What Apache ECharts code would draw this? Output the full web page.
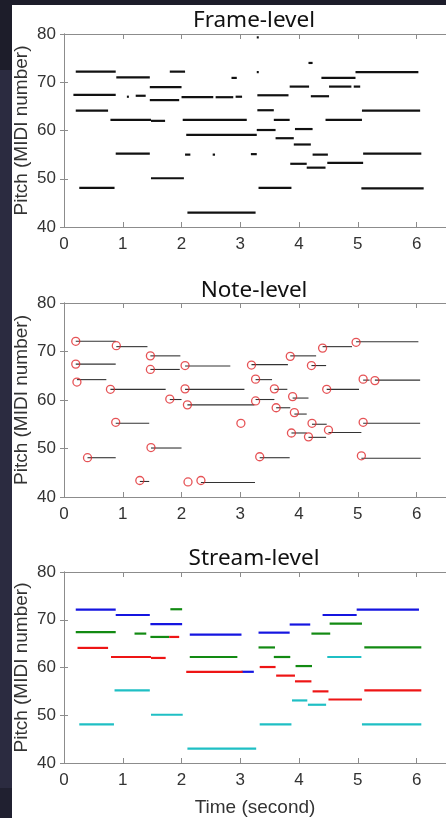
<!DOCTYPE html>
<html>
<head>
<meta charset="utf-8">
<script src="https://cdn.jsdelivr.net/npm/echarts@6/dist/echarts.min.js"></script>
<style>
  html, body { margin: 0; padding: 0; }
  body { width: 446px; height: 818px; position: relative; overflow: hidden; background: #2b2b40; }
  .dark { position: absolute; background: #1d1d2a; }
  .sheet { position: absolute; left: 12px; top: 5px; width: 434px; height: 813px; background: #fff; }
  #chart { position: absolute; left: 0; top: 0; width: 446px; height: 818px; }
</style>
</head>
<body>
<div class="dark" style="left:0;top:0;width:446px;height:5px"></div>
<div class="dark" style="left:0;top:0;width:12px;height:70px"></div>
<div class="dark" style="left:0;top:788px;width:12px;height:30px;background:#202030"></div>
<div class="sheet"></div>
<div id="chart"></div>
<script>
// segments are [start (s), end (s), pitch (MIDI)]
const frameSegs = [
  [0.20, 0.88, 72.2], [0.89, 1.46, 71.0], [1.80, 2.06, 72.2], [1.46, 2.00, 69.0],
  [0.16, 0.88, 67.4], [1.07, 1.10, 67.0], [1.22, 1.39, 67.2], [1.46, 1.96, 66.3],
  [0.20, 0.75, 64.1], [0.79, 1.48, 62.2], [1.48, 1.72, 62.0], [0.88, 1.46, 55.2],
  [1.48, 2.04, 50.1], [0.26, 0.86, 48.1], [2.10, 3.26, 43.0], [2.00, 2.54, 66.9],
  [2.58, 2.88, 66.9], [2.92, 3.03, 67.0], [2.85, 2.94, 70.9], [3.28, 3.31, 72.1],
  [3.28, 3.30, 79.3], [2.02, 3.11, 62.2], [2.08, 3.28, 59.1], [3.28, 3.60, 60.1],
  [2.06, 2.15, 55.0], [2.53, 2.57, 55.0], [3.18, 3.28, 55.1], [3.29, 3.82, 67.3],
  [3.29, 3.57, 64.2], [3.57, 3.84, 62.2], [3.60, 3.91, 58.4], [3.31, 3.87, 48.1],
  [3.84, 4.17, 69.1], [4.16, 4.23, 74.0], [3.93, 4.23, 60.3], [3.91, 4.20, 57.1],
  [3.85, 4.13, 53.1], [4.13, 4.45, 52.3], [4.23, 4.49, 55.0], [4.20, 4.51, 67.1],
  [4.38, 4.96, 70.9], [4.51, 4.89, 69.1], [4.93, 5.04, 69.1], [4.45, 5.07, 62.2],
  [4.48, 5.09, 53.3], [4.96, 6.03, 72.1], [5.07, 6.06, 64.1], [5.09, 6.08, 55.2],
  [5.06, 6.12, 48.0]
];

// note onsets [time, pitch]
const noteOnsets = [
  [0.20, 72.1], [0.89, 71.2], [0.20, 67.4], [0.22, 63.7], [0.79, 62.2], [0.88, 55.4],
  [0.40, 48.1], [1.47, 69.1], [1.47, 66.3], [1.80, 60.2], [1.48, 50.2], [1.29, 43.4],
  [2.06, 67.1], [2.06, 62.3], [2.10, 59.0], [2.11, 43.1], [2.33, 43.4], [3.01, 55.2],
  [3.19, 67.2], [3.26, 64.3], [3.26, 59.8], [3.33, 48.3], [3.58, 62.3], [3.61, 58.4],
  [3.85, 69.0], [3.89, 60.7], [3.92, 57.4], [3.87, 53.2], [4.21, 67.1], [4.22, 55.2],
  [4.16, 52.4], [4.40, 70.7], [4.47, 62.2], [4.50, 53.8], [4.97, 71.9], [5.09, 64.3],
  [5.29, 64.0], [5.09, 55.4], [5.06, 48.5]
];

const noteContours = [
  [0.20, 0.88, 72.1], [0.89, 1.42, 71.0], [0.20, 0.88, 67.4], [0.22, 0.72, 64.2],
  [0.79, 1.73, 62.2], [0.88, 1.45, 55.2], [0.40, 0.88, 48.1], [1.47, 1.98, 69.1],
  [1.47, 1.97, 66.3], [1.80, 2.00, 60.1], [1.48, 2.00, 50.1], [1.29, 1.45, 43.2],
  [2.06, 2.83, 67.0], [2.06, 3.07, 62.2], [2.10, 3.24, 59.0], [2.33, 3.25, 43.0],
  [3.19, 3.81, 67.3], [3.26, 3.54, 64.2], [3.26, 3.58, 60.1], [3.33, 3.84, 48.1],
  [3.58, 3.80, 62.2], [3.61, 3.85, 58.4], [3.85, 4.29, 69.1], [3.89, 4.16, 60.4],
  [3.92, 4.13, 57.1], [3.87, 4.13, 53.2], [4.21, 4.46, 67.1], [4.22, 4.47, 55.0],
  [4.16, 4.46, 52.3], [4.40, 4.90, 71.0], [4.47, 5.02, 62.2], [4.50, 5.06, 53.3],
  [4.97, 6.03, 72.0], [5.09, 5.20, 64.1], [5.29, 6.06, 64.1], [5.09, 6.06, 55.2],
  [5.06, 6.07, 48.0]
];

// stream-level, one array per stream
const streamBlue = [
  [0.20, 0.88, 72.1], [0.88, 1.46, 71.0], [1.47, 2.01, 69.1], [2.14, 3.02, 66.9],
  [3.02, 3.23, 59.1], [3.31, 3.84, 67.3], [3.84, 4.19, 69.0], [4.40, 4.98, 71.0],
  [4.98, 6.04, 72.1]
];
const streamGreen = [
  [0.20, 0.88, 67.4], [1.20, 1.40, 67.1], [1.47, 1.79, 66.4], [1.81, 2.01, 72.2],
  [2.14, 2.95, 62.2], [3.31, 3.59, 64.2], [3.57, 3.85, 62.2], [3.94, 4.22, 60.3],
  [4.21, 4.53, 67.1], [4.52, 5.07, 69.2], [5.11, 6.08, 64.2]
];
const streamRed = [
  [0.23, 0.75, 64.1], [0.80, 1.48, 62.2], [1.48, 1.73, 62.0], [1.79, 1.96, 66.4],
  [2.08, 3.04, 59.1], [3.33, 3.60, 60.1], [3.61, 3.93, 58.3], [3.93, 4.21, 57.1],
  [4.23, 4.50, 55.0], [4.50, 5.07, 53.3], [5.11, 6.08, 55.2]
];
const streamCyan = [
  [0.26, 0.85, 48.1], [0.86, 1.46, 55.2], [1.48, 2.02, 50.1], [2.10, 3.27, 43.0],
  [3.33, 3.87, 48.1], [3.88, 4.14, 53.1], [4.15, 4.46, 52.2], [4.48, 5.06, 62.2],
  [5.07, 6.08, 48.1]
];

const titles = ['Frame-level', 'Note-level', 'Stream-level'];
const xTicks = [0, 1, 2, 3, 4, 5, 6];
const yTicks = [40, 50, 60, 70, 80];

const grids = [
  { left: 64, top: 34, width: 385, height: 193 },
  { left: 64, top: 303, width: 385, height: 194 },
  { left: 64, top: 572, width: 384, height: 191 }
];

const axisGray = '#8c8c8c';
const labelFont = { fontFamily: 'Liberation Sans', fontSize: 17, color: '#333' };

const xAxis = [], yAxis = [];
grids.forEach((g, i) => {
  xAxis.push({
    type: 'value', gridIndex: i, min: 0, max: 6.5, interval: 1,
    axisLine: { lineStyle: { color: axisGray } },
    axisTick: { inside: true, length: 5, lineStyle: { color: axisGray } },
    splitLine: { show: false },
    axisLabel: Object.assign({ margin: 9, showMaxLabel: false,
      formatter: v => xTicks.includes(v) ? String(v) : '' }, labelFont),
    name: i === 2 ? 'Time (second)' : '',
    nameLocation: 'middle', nameGap: 35, nameMoveOverlap: false,
    nameTextStyle: { fontFamily: 'Liberation Sans', fontSize: 19, color: '#333' }
  });
  xAxis.push({
    type: 'value', gridIndex: i, position: 'top', min: 0, max: 6.5, interval: 1,
    axisLine: { lineStyle: { color: axisGray } },
    axisTick: { inside: true, length: 5, lineStyle: { color: axisGray } },
    axisLabel: { show: false }, splitLine: { show: false }
  });
  yAxis.push({
    type: 'value', gridIndex: i, min: 40, max: 80, interval: 10,
    axisLine: { show: true, lineStyle: { color: axisGray } },
    axisTick: { show: true, inside: true, length: 4, lineStyle: { color: axisGray } },
    splitLine: { show: false },
    axisLabel: Object.assign({ margin: 8,
      formatter: v => yTicks.includes(v) ? String(v) : '' }, labelFont),
    name: 'Pitch (MIDI number)', nameLocation: 'middle', nameGap: 33, nameMoveOverlap: false,
    nameTextStyle: { fontFamily: 'Liberation Sans', fontSize: 19, color: '#333' }
  });
  yAxis.push({
    type: 'value', gridIndex: i, position: 'right', min: 40, max: 80, interval: 10,
    axisLine: { show: true, lineStyle: { color: axisGray } },
    axisTick: { show: true, inside: true, length: 4, lineStyle: { color: axisGray } },
    axisLabel: { show: false }, splitLine: { show: false }
  });
});

function segSeries(data, panel, color, width) {
  return {
    type: 'custom',
    xAxisIndex: panel * 2, yAxisIndex: panel * 2,
    data: data,
    encode: { x: [0, 1], y: 2 },
    silent: true,
    renderItem: (params, api) => {
      const a = api.coord([api.value(0), api.value(2)]);
      const b = api.coord([api.value(1), api.value(2)]);
      return {
        type: 'line',
        shape: { x1: a[0], y1: a[1], x2: Math.max(b[0], a[0] + 2), y2: b[1] },
        style: { stroke: color, lineWidth: width, lineCap: 'butt' }
      };
    }
  };
}

const series = [
  segSeries(frameSegs, 0, '#111', 2.2),
  segSeries(noteContours, 1, '#333', 1.1),
  {
    type: 'scatter', xAxisIndex: 2, yAxisIndex: 2, data: noteOnsets,
    symbol: 'circle', symbolSize: 8, silent: true,
    itemStyle: { color: 'rgba(255,255,255,0)', borderColor: '#e0282c', borderWidth: 1.3 }
  },
  segSeries(streamBlue, 2, '#1515e0', 2.2),
  segSeries(streamGreen, 2, '#128a12', 2.2),
  segSeries(streamRed, 2, '#ee1515', 2.2),
  segSeries(streamCyan, 2, '#1fbfc4', 2.2)
];

const chart = echarts.init(document.getElementById('chart'));
chart.setOption({
  animation: false,
  backgroundColor: 'transparent',
  title: titles.map((t, i) => ({
    text: t, left: 249, top: [4, 274, 542][i], textAlign: 'center',
    textStyle: { fontFamily: 'Noto Sans', fontSize: 22.5, fontWeight: 'normal', color: '#111' }
  })),
  grid: grids,
  xAxis: xAxis,
  yAxis: yAxis,
  series: series
});
</script>
</body>
</html>
